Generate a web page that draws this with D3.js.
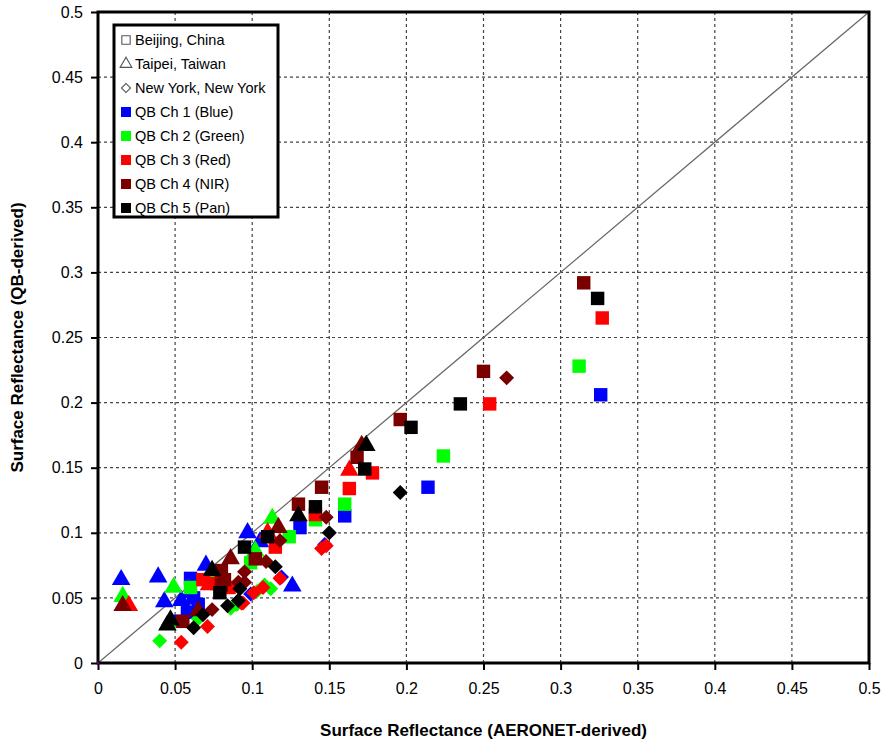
<!DOCTYPE html>
<html><head><meta charset="utf-8">
<script src="https://cdn.jsdelivr.net/npm/d3@7"></script>
<style>body{margin:0;background:#fff;} svg{display:block;font-family:Arial,"Liberation Sans",sans-serif;}</style>
</head><body>
<svg id="chart" width="886" height="744"></svg>
<script>
// ---- data ----
const xTicks = [0,0.05,0.1,0.15,0.2,0.25,0.3,0.35,0.4,0.45,0.5];
const yTicks = [0,0.05,0.1,0.15,0.2,0.25,0.3,0.35,0.4,0.45,0.5];
const sites = ["Beijing, China","Taipei, Taiwan","New York, New York"];
const channels = ["QB Ch 1 (Blue)","QB Ch 2 (Green)","QB Ch 3 (Red)","QB Ch 4 (NIR)","QB Ch 5  (Pan)"];
const channelColors = ["#0000ff","#00ff00","#ff0000","#7a0000","#000000"];

// [x (AERONET), y (QB)] pairs, per channel and site
const blueBeijing = [[0.326,0.206],[0.214,0.135],[0.160,0.113],[0.131,0.104],[0.060,0.065],[0.062,0.050],[0.050,0.032],[0.058,0.039],[0.065,0.045]];
const blueTaipei = [[0.015,0.064],[0.039,0.066],[0.043,0.047],[0.054,0.048],[0.070,0.075],[0.097,0.100],[0.105,0.093],[0.126,0.059],[0.060,0.054]];
const blueNewYork = [[0.099,0.053],[0.119,0.066],[0.147,0.091]];
const greenBeijing = [[0.312,0.228],[0.224,0.159],[0.160,0.122],[0.141,0.110],[0.124,0.097],[0.099,0.077],[0.060,0.058]];
const greenTaipei = [[0.016,0.051],[0.049,0.058],[0.113,0.111],[0.102,0.086],[0.047,0.031],[0.075,0.066]];
const greenNewYork = [[0.040,0.017],[0.065,0.034],[0.086,0.042],[0.090,0.045],[0.112,0.057],[0.108,0.060],[0.103,0.055]];
const redBeijing = [[0.327,0.265],[0.254,0.199],[0.178,0.146],[0.163,0.134],[0.141,0.114],[0.115,0.089],[0.068,0.064],[0.077,0.061],[0.085,0.058]];
const redTaipei = [[0.020,0.044],[0.163,0.148],[0.072,0.060],[0.110,0.100]];
const redNewYork = [[0.054,0.016],[0.071,0.028],[0.093,0.046],[0.101,0.054],[0.107,0.058],[0.118,0.065],[0.145,0.088],[0.148,0.090],[0.094,0.046]];
const nirBeijing = [[0.315,0.292],[0.250,0.224],[0.196,0.187],[0.168,0.158],[0.145,0.135],[0.130,0.122],[0.102,0.080],[0.080,0.071],[0.082,0.064],[0.080,0.060],[0.055,0.032]];
const nirTaipei = [[0.016,0.044],[0.171,0.167],[0.117,0.104],[0.086,0.080],[0.065,0.040]];
const nirNewYork = [[0.265,0.219],[0.148,0.112],[0.118,0.094],[0.109,0.078],[0.095,0.070],[0.095,0.062],[0.091,0.062],[0.074,0.041]];
const panBeijing = [[0.324,0.280],[0.235,0.199],[0.203,0.181],[0.173,0.149],[0.141,0.120],[0.110,0.097],[0.095,0.089],[0.079,0.054]];
const panTaipei = [[0.174,0.167],[0.130,0.113],[0.074,0.071],[0.045,0.029],[0.047,0.033]];
const panNewYork = [[0.196,0.131],[0.150,0.100],[0.115,0.074],[0.092,0.057],[0.084,0.044],[0.091,0.048],[0.062,0.027],[0.068,0.037]];

const series = [
  [blueBeijing, blueTaipei, blueNewYork],
  [greenBeijing, greenTaipei, greenNewYork],
  [redBeijing, redTaipei, redNewYork],
  [nirBeijing, nirTaipei, nirNewYork],
  [panBeijing, panTaipei, panNewYork]
];

// ---- layout ----
const L = 98, R = 869, T = 12, B = 663;
const svg = d3.select("#chart");
const x = d3.scaleLinear().domain([0,0.5]).range([L,R]);
const y = d3.scaleLinear().domain([0,0.5]).range([B,T]);

// grid
const grid = svg.append("g");
grid.selectAll("line.gx").data(xTicks.slice(1,-1)).join("line")
  .attr("x1",d=>x(d)).attr("x2",d=>x(d)).attr("y1",T).attr("y2",B)
  .attr("stroke","#444").attr("stroke-width",1.2).attr("stroke-dasharray","3,3");
grid.selectAll("line.gy").data(yTicks.slice(1,-1)).join("line")
  .attr("y1",d=>y(d)).attr("y2",d=>y(d)).attr("x1",L).attr("x2",R)
  .attr("stroke","#444").attr("stroke-width",1.2).attr("stroke-dasharray","3,3");

// 1:1 line
svg.append("line").attr("x1",x(0)).attr("y1",y(0)).attr("x2",x(0.5)).attr("y2",y(0.5))
  .attr("stroke","#666").attr("stroke-width",1.2);

// axes
const xAxis = d3.axisBottom(x).tickValues(xTicks).tickSize(7).tickPadding(13).tickFormat(d=>String(+d.toFixed(2)));
const yAxis = d3.axisLeft(y).tickValues(yTicks).tickSize(7).tickPadding(8).tickFormat(d=>String(+d.toFixed(2)));
const gx = svg.append("g").attr("transform",`translate(0,${B})`).call(xAxis);
const gy = svg.append("g").attr("transform",`translate(${L},0)`).call(yAxis);
[gx,gy].forEach(g=>{
  g.select(".domain").remove();
  g.selectAll(".tick line").attr("stroke","#000").attr("stroke-width",2);
  g.selectAll(".tick text").attr("fill","#000").style("font-size","16px").style("font-family","Arial, 'Liberation Sans', sans-serif");
});

// markers: square, triangle, diamond (rotated square)
const symPaths = [
  d3.symbol().type(d3.symbolSquare).size(180)(),
  d3.symbol().type(d3.symbolTriangle).size(150)(),
  d3.symbol().type(d3.symbolSquare).size(112)()
];
const symRot = [0, 0, 45];
const marks = svg.append("g");
series.forEach((sites3, ci) => {
  sites3.forEach((pts, si) => {
    marks.selectAll(null).data(pts).join("path")
      .attr("transform", d => `translate(${x(d[0])},${y(d[1])}) rotate(${symRot[si]})`)
      .attr("d", symPaths[si])
      .attr("fill", channelColors[ci]);
  });
});

// frame
svg.append("rect").attr("x",L).attr("y",T).attr("width",R-L).attr("height",B-T)
  .attr("fill","none").attr("stroke","#000").attr("stroke-width",3);
svg.append("circle").attr("cx",x(0)).attr("cy",y(0)).attr("r",1.5).attr("fill","#606");

// axis titles
svg.append("text").attr("x",(L+R)/2).attr("y",736).attr("text-anchor","middle")
  .style("font-size","17px").style("font-weight","bold").text("Surface Reflectance (AERONET-derived)");
svg.append("text").attr("transform",`translate(23,${(T+B)/2}) rotate(-90)`).attr("text-anchor","middle")
  .style("font-size","17px").style("font-weight","bold").text("Surface Reflectance (QB-derived)");

// legend
const lg = svg.append("g");
lg.append("rect").attr("x",114).attr("y",25).attr("width",164).attr("height",192)
  .attr("fill","#fff").attr("stroke","#000").attr("stroke-width",3);
const legendSym = [
  d3.symbol().type(d3.symbolSquare).size(70)(),
  d3.symbol().type(d3.symbolTriangle).size(60)(),
  d3.symbol().type(d3.symbolSquare).size(40)()
];
const legendItems = sites.map((s,i)=>({label:s, type:"site", i}))
  .concat(channels.map((c,i)=>({label:c, type:"chan", i})));
legendItems.forEach((it,k)=>{
  const cy = 40 + k*24.0;
  if(it.type==="site"){
    lg.append("path").attr("transform",`translate(126,${cy}) rotate(${symRot[it.i]})`)
      .attr("d", legendSym[it.i])
      .attr("fill","none").attr("stroke","#555").attr("stroke-width",1.1);
  } else {
    lg.append("rect").attr("x",121).attr("y",cy-5).attr("width",10).attr("height",10)
      .attr("fill",channelColors[it.i]);
  }
  lg.append("text").attr("x",135).attr("y",cy).attr("dy","0.36em")
    .style("font-size","14.5px").attr("textLength", null).text(it.label);
});
</script>
</body></html>
